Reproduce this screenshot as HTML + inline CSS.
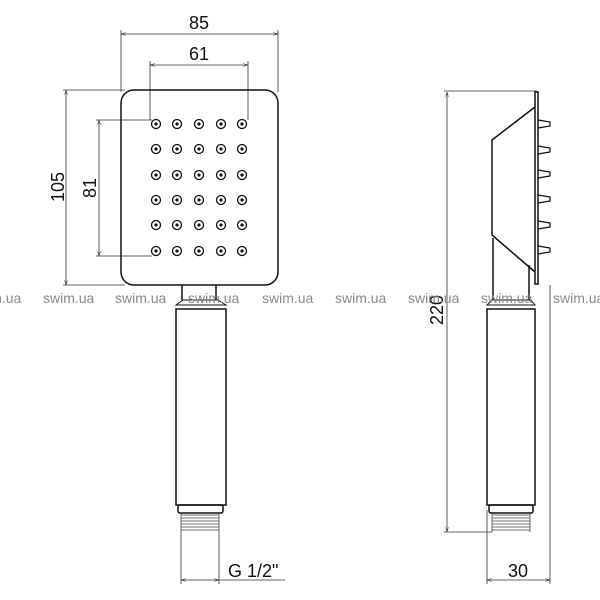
<!DOCTYPE html>
<html><head><style>
html,body{margin:0;padding:0;background:#fff;}
svg{display:block;}
text{font-family:"Liberation Sans",sans-serif;}
.wm{fill:#8a8a8a;font-size:14px;}
</style></head><body>
<svg width="600" height="600" viewBox="0 0 600 600" xmlns="http://www.w3.org/2000/svg">
<defs>
<marker id="a" viewBox="0 0 10 10" refX="10" refY="5" markerWidth="8" markerHeight="6" orient="auto-start-reverse"><path d="M0,2 L10,5 L0,8" fill="none" stroke="#222" stroke-width="1"/></marker>
</defs>
<g stroke="#333" stroke-width="0.8" fill="none">
<line x1="121" y1="34" x2="278" y2="34" marker-start="url(#a)" marker-end="url(#a)"/>
<line x1="121" y1="30" x2="121" y2="92"/><line x1="278" y1="30" x2="278" y2="92"/>
<line x1="150" y1="65" x2="248" y2="65" marker-start="url(#a)" marker-end="url(#a)"/>
<line x1="150" y1="61" x2="150" y2="120"/><line x1="248" y1="61" x2="248" y2="120"/>
<line x1="66" y1="90" x2="66" y2="285" marker-start="url(#a)" marker-end="url(#a)"/>
<line x1="63" y1="90" x2="125" y2="90"/><line x1="63" y1="285" x2="125" y2="285"/>
<line x1="99" y1="120" x2="99" y2="256" marker-start="url(#a)" marker-end="url(#a)"/>
<line x1="96" y1="120" x2="152" y2="120"/><line x1="96" y1="256" x2="152" y2="256"/>
<line x1="181" y1="530" x2="181" y2="584"/><line x1="219" y1="530" x2="219" y2="584"/>
<line x1="181" y1="580" x2="219" y2="580" marker-start="url(#a)" marker-end="url(#a)"/>
<line x1="219" y1="580" x2="285" y2="580"/>
<line x1="447" y1="92" x2="447" y2="532" marker-start="url(#a)" marker-end="url(#a)"/>
<line x1="444" y1="91" x2="537" y2="91"/><line x1="444" y1="532" x2="492" y2="532"/>
<line x1="487" y1="510" x2="487" y2="584"/><line x1="550" y1="285" x2="550" y2="584"/>
<line x1="487" y1="580" x2="550" y2="580" marker-start="url(#a)" marker-end="url(#a)"/>
</g>
<g stroke="#111" stroke-width="1.5" fill="none">
<rect x="121" y="90" width="157" height="195" rx="13"/>
<path d="M182 285 V300 M216 285 V300"/>
<path d="M176 305 L183 300 H218 L226 305 Z" stroke-width="1"/>
<rect x="176" y="309" width="50" height="196"/>
<rect x="178" y="505" width="45" height="8" rx="2"/>
<rect x="535" y="92" width="3" height="192" fill="#fff"/>
<path d="M535 107 L492 140 V235 L535 272"/>
<path d="M493 238 V300 M529 265 V300"/>
<path d="M487 305 L492 300 H531 L535 305 Z" stroke-width="1"/>
<rect x="487" y="309" width="48" height="196"/>
<rect x="489" y="505" width="44" height="8" rx="2"/>
</g>
<g stroke="#111" stroke-width="1.2" fill="none">
<path d="M538 120 L550 122 V126 L538 128"/>
<path d="M538 146 L550 148 V152 L538 154"/>
<path d="M538 170 L550 172 V176 L538 178"/>
<path d="M538 195 L550 197 V201 L538 203"/>
<path d="M538 221 L550 223 V227 L538 229"/>
<path d="M538 246 L550 248 V252 L538 254"/>
</g>
<g stroke="#444" stroke-width="0.8">
<path d="M181 515H219M181 518H219M181 521H219M181 524H219M181 527H219M181 530H219 M181 513V532 M219 513V532"/>
<path d="M492 515H530M492 518H530M492 521H530M492 524H530M492 527H530M492 530H530 M492 513V532 M530 513V532"/>
</g>
<g stroke="#111" stroke-width="1.3">
<g fill="#fff">
<circle cx="156" cy="124" r="4.5"/><circle cx="177" cy="124" r="4.5"/><circle cx="199" cy="124" r="4.5"/><circle cx="221" cy="124" r="4.5"/><circle cx="242" cy="124" r="4.5"/>
<circle cx="156" cy="149" r="4.5"/><circle cx="177" cy="149" r="4.5"/><circle cx="199" cy="149" r="4.5"/><circle cx="221" cy="149" r="4.5"/><circle cx="242" cy="149" r="4.5"/>
<circle cx="156" cy="175" r="4.5"/><circle cx="177" cy="175" r="4.5"/><circle cx="199" cy="175" r="4.5"/><circle cx="221" cy="175" r="4.5"/><circle cx="242" cy="175" r="4.5"/>
<circle cx="156" cy="200" r="4.5"/><circle cx="177" cy="200" r="4.5"/><circle cx="199" cy="200" r="4.5"/><circle cx="221" cy="200" r="4.5"/><circle cx="242" cy="200" r="4.5"/>
<circle cx="156" cy="225" r="4.5"/><circle cx="177" cy="225" r="4.5"/><circle cx="199" cy="225" r="4.5"/><circle cx="221" cy="225" r="4.5"/><circle cx="242" cy="225" r="4.5"/>
<circle cx="156" cy="251" r="4.5"/><circle cx="177" cy="251" r="4.5"/><circle cx="199" cy="251" r="4.5"/><circle cx="221" cy="251" r="4.5"/><circle cx="242" cy="251" r="4.5"/>
</g>
<g fill="#111" stroke="none">
<circle cx="156" cy="124" r="1.6"/><circle cx="177" cy="124" r="1.6"/><circle cx="199" cy="124" r="1.6"/><circle cx="221" cy="124" r="1.6"/><circle cx="242" cy="124" r="1.6"/>
<circle cx="156" cy="149" r="1.6"/><circle cx="177" cy="149" r="1.6"/><circle cx="199" cy="149" r="1.6"/><circle cx="221" cy="149" r="1.6"/><circle cx="242" cy="149" r="1.6"/>
<circle cx="156" cy="175" r="1.6"/><circle cx="177" cy="175" r="1.6"/><circle cx="199" cy="175" r="1.6"/><circle cx="221" cy="175" r="1.6"/><circle cx="242" cy="175" r="1.6"/>
<circle cx="156" cy="200" r="1.6"/><circle cx="177" cy="200" r="1.6"/><circle cx="199" cy="200" r="1.6"/><circle cx="221" cy="200" r="1.6"/><circle cx="242" cy="200" r="1.6"/>
<circle cx="156" cy="225" r="1.6"/><circle cx="177" cy="225" r="1.6"/><circle cx="199" cy="225" r="1.6"/><circle cx="221" cy="225" r="1.6"/><circle cx="242" cy="225" r="1.6"/>
<circle cx="156" cy="251" r="1.6"/><circle cx="177" cy="251" r="1.6"/><circle cx="199" cy="251" r="1.6"/><circle cx="221" cy="251" r="1.6"/><circle cx="242" cy="251" r="1.6"/>
</g>
</g>
<g fill="#111" font-size="18">
<text x="199" y="29" text-anchor="middle">85</text>
<text x="199" y="60" text-anchor="middle">61</text>
<text transform="translate(64,187) rotate(-90)" text-anchor="middle">105</text>
<text transform="translate(96,188) rotate(-90)" text-anchor="middle">81</text>
<text x="228" y="577">G 1/2"</text>
<text x="518" y="577" text-anchor="middle">30</text>
<text transform="translate(443,310) rotate(-90)" text-anchor="middle">220</text>
</g>
<g class="wm">
<text x="-30" y="303">swim.ua</text>
<text x="43" y="303">swim.ua</text>
<text x="115" y="303">swim.ua</text>
<text x="188" y="303">swim.ua</text>
<text x="262" y="303">swim.ua</text>
<text x="335" y="303">swim.ua</text>
<text x="408" y="303">swim.ua</text>
<text x="481" y="303">swim.ua</text>
<text x="553" y="303">swim.ua</text>
</g>
</svg>
</body></html>
